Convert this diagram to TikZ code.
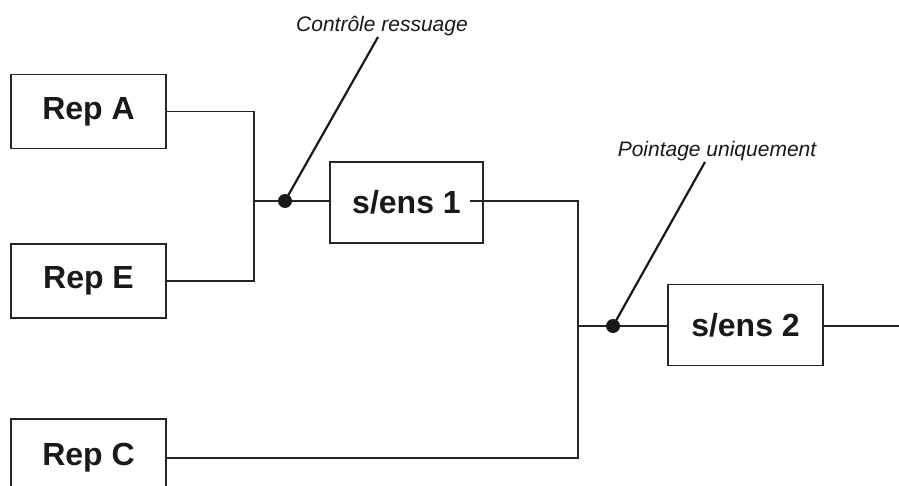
\documentclass[tikz,border=0pt]{standalone}
\usepackage{fontspec}
\setmainfont{Liberation Sans}
\usetikzlibrary{calc}
\tikzset{
	blok/.style={draw=black!85, line width=1.7pt, minimum width=155pt, minimum height=74pt, inner sep=0pt, font=\fontsize{32}{38}\selectfont\bfseries, text=black!90},
	liaison/.style={line width=1.7pt, color=black!85},
	renvoi/.style={line width=2.2pt, color=black!90},
	remarque/.style={inner sep=0pt, font=\fontsize{21}{25}\selectfont\itshape, text=black!90},
}

\begin{document}
\begin{tikzpicture}[x=1pt, y=-1pt]
		%%%%% START %%%%%
		
		\useasboundingbox (0, 0) rectangle (899, 486);
		\clip (0, 0) rectangle (899, 486);
		
		\node[blok] (repA) at (88.5, 111.5) {Rep A};
		\node[blok] (repE) at (88.5, 281) {Rep E};
		\node[blok, minimum height=78pt] (repC) at (88.5, 458) {Rep C};
		\node[blok, minimum width=153pt, minimum height=81pt] (sens1) at (406.5, 202.5) {s/ens 1};
		\node[blok, minimum height=81pt] (sens2) at (745.5, 325) {s/ens 2};
		
		\node[remarque] (ressuage) at (382, 26) {Contrôle ressuage};
		\node[remarque] (pointage) at (717, 151) {Pointage uniquement};
		
		\coordinate (j1) at (254, 201);
		\coordinate (d1) at (285, 201);
		\coordinate (s1out) at (470, 201);
		\coordinate (j2) at (578, 326);
		\coordinate (d2) at (613, 326);
		\coordinate (sortie) at (899, 326);
		\coordinate (r1) at (378, 37);
		\coordinate (r2) at (705, 162);
		
		\draw[liaison] (repA.east) -| (j1) |- (repE.east);
		\draw[liaison] (j1) -- (j1 -| sens1.west);
		\draw[liaison] (s1out) -| (j2) |- (repC.east);
		\draw[liaison] (j2) -- (j2 -| sens2.west);
		\draw[liaison] (sens2.east |- sortie) -- (sortie);
		
		\draw[renvoi] (d1) -- (r1);
		\draw[renvoi] (d2) -- (r2);
		\fill[black!90] (d1) circle (7);
		\fill[black!90] (d2) circle (7);
		
		%%%%% END %%%%%
	\end{tikzpicture}
\end{document}
